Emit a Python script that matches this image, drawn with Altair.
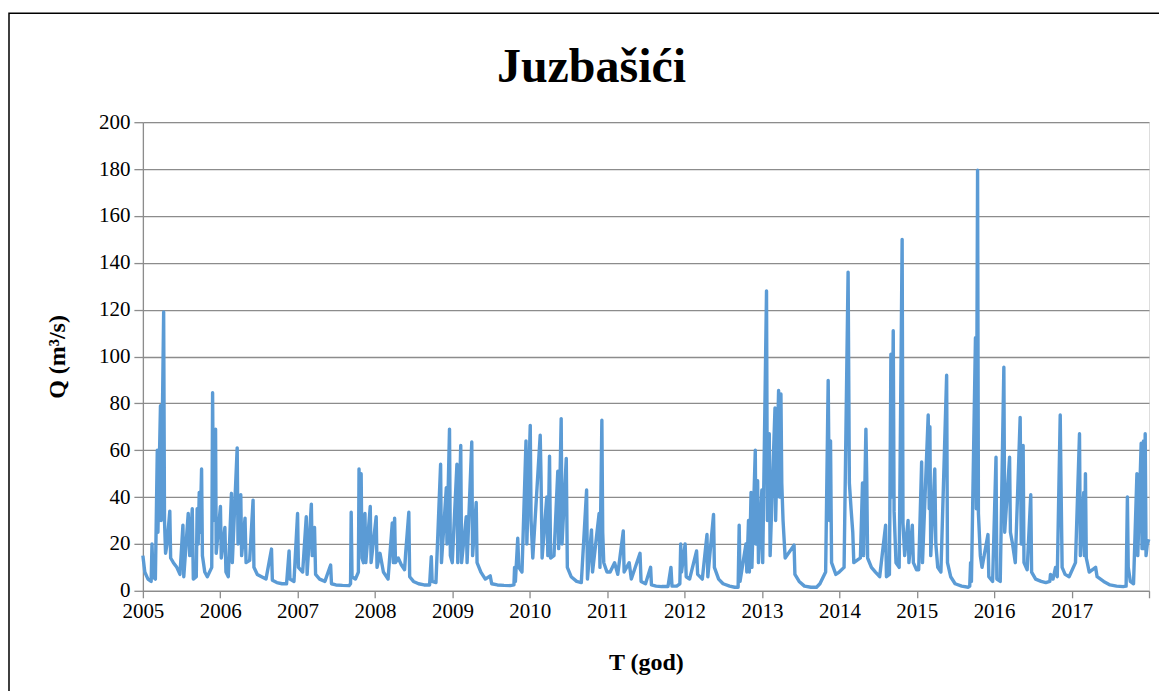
import altair as alt
import pandas as pd

Y2005 = [("2005-01-01", 15), ("2005-01-10", 8), ("2005-01-25", 5), ("2005-02-09", 4), ("2005-02-13", 20),
         ("2005-02-18", 6), ("2005-03-01", 5), ("2005-03-10", 60), ("2005-03-13", 25), ("2005-03-25", 79),
         ("2005-03-28", 30), ("2005-04-09", 119), ("2005-04-13", 30), ("2005-04-18", 16), ("2005-04-25", 20),
         ("2005-05-08", 34), ("2005-05-12", 14), ("2005-05-25", 12), ("2005-06-10", 10), ("2005-06-25", 7),
         ("2005-07-09", 28), ("2005-07-13", 6), ("2005-08-03", 33), ("2005-08-10", 15), ("2005-08-22", 35),
         ("2005-08-27", 5), ("2005-09-10", 6), ("2005-09-14", 35), ("2005-09-19", 20), ("2005-09-24", 42),
         ("2005-09-28", 25), ("2005-10-05", 52), ("2005-10-09", 15), ("2005-10-20", 8), ("2005-11-01", 6),
         ("2005-11-22", 10), ("2005-11-26", 84.5), ("2005-11-30", 30), ("2005-12-10", 69), ("2005-12-13", 16)]
Y2006 = [("2006-01-02", 36), ("2006-01-06", 14), ("2006-01-23", 27), ("2006-01-28", 8), ("2006-02-08", 6),
         ("2006-02-23", 41.6), ("2006-02-27", 12), ("2006-03-22", 61), ("2006-03-26", 20), ("2006-04-08", 41),
         ("2006-04-12", 15), ("2006-04-28", 31), ("2006-05-03", 12), ("2006-05-20", 13), ("2006-06-05", 38.7),
         ("2006-06-09", 10), ("2006-06-25", 7), ("2006-07-15", 6), ("2006-08-05", 5), ("2006-08-31", 17.8),
         ("2006-09-04", 4.5), ("2006-09-25", 3.5), ("2006-10-20", 3), ("2006-11-10", 3), ("2006-11-22", 17),
         ("2006-11-26", 5), ("2006-12-15", 4)]
Y2007 = [("2007-01-01", 33), ("2007-01-05", 10), ("2007-01-25", 8), ("2007-02-11", 31.6), ("2007-02-15", 7),
         ("2007-03-07", 37), ("2007-03-11", 15), ("2007-03-22", 27), ("2007-03-27", 7), ("2007-04-15", 5),
         ("2007-05-10", 4), ("2007-06-06", 11), ("2007-06-10", 3), ("2007-07-01", 2.5), ("2007-08-01", 2.3),
         ("2007-09-01", 2.2), ("2007-09-08", 3), ("2007-09-11", 33.5), ("2007-09-15", 6), ("2007-10-01", 5),
         ("2007-10-15", 8), ("2007-10-18", 52), ("2007-10-22", 20), ("2007-10-28", 50), ("2007-11-01", 14),
         ("2007-11-08", 12), ("2007-11-15", 33), ("2007-11-19", 12), ("2007-12-10", 36), ("2007-12-14", 12)]
Y2008 = [("2008-01-07", 31.6), ("2008-01-11", 10), ("2008-01-25", 16), ("2008-02-10", 8), ("2008-03-03", 5),
         ("2008-03-23", 29), ("2008-03-28", 12), ("2008-04-03", 31), ("2008-04-07", 12), ("2008-04-20", 14),
         ("2008-05-05", 11), ("2008-05-20", 9), ("2008-05-25", 16), ("2008-06-09", 33.5), ("2008-06-13", 6),
         ("2008-07-01", 4), ("2008-07-25", 3), ("2008-08-20", 2.5), ("2008-09-15", 2.5), ("2008-09-23", 14.6),
         ("2008-09-27", 4), ("2008-10-15", 3.5), ("2008-11-06", 54), ("2008-11-10", 12), ("2008-12-03", 44),
         ("2008-12-06", 20), ("2008-12-18", 69), ("2008-12-22", 15), ("2008-12-31", 12)]
Y2009 = [("2009-01-22", 54), ("2009-01-26", 12), ("2009-02-09", 62), ("2009-02-13", 12), ("2009-03-07", 31.6),
         ("2009-03-11", 12), ("2009-04-02", 63.5), ("2009-04-06", 15), ("2009-04-23", 37.7), ("2009-04-27", 12),
         ("2009-05-15", 8), ("2009-06-05", 5), ("2009-06-28", 6.4), ("2009-07-05", 3), ("2009-08-01", 2.5),
         ("2009-09-01", 2.3), ("2009-10-01", 2.2), ("2009-10-18", 2.5), ("2009-10-21", 10), ("2009-10-25", 4),
         ("2009-11-05", 22.4), ("2009-11-10", 10), ("2009-11-25", 8), ("2009-12-14", 64), ("2009-12-18", 20)]
Y2010 = [("2010-01-03", 70.6), ("2010-01-07", 30), ("2010-01-15", 14), ("2010-02-19", 66.4), ("2010-02-23", 48),
         ("2010-02-28", 14), ("2010-03-22", 40), ("2010-03-27", 15), ("2010-04-04", 57.4), ("2010-04-09", 14),
         ("2010-04-25", 15), ("2010-05-13", 51), ("2010-05-17", 18), ("2010-05-29", 73.5), ("2010-06-02", 20),
         ("2010-06-22", 56.5), ("2010-06-27", 10), ("2010-07-15", 6), ("2010-08-10", 4), ("2010-09-01", 3.5),
         ("2010-09-26", 43), ("2010-09-30", 5), ("2010-10-19", 26), ("2010-10-24", 8), ("2010-11-24", 33),
         ("2010-11-28", 10), ("2010-12-07", 72.8), ("2010-12-11", 25), ("2010-12-16", 12), ("2010-12-31", 8)]
Y2011 = [("2011-01-15", 8), ("2011-02-05", 12), ("2011-02-20", 7), ("2011-03-18", 25.5), ("2011-03-22", 8),
         ("2011-04-15", 12), ("2011-04-25", 5), ("2011-06-05", 16), ("2011-06-10", 4), ("2011-07-01", 3),
         ("2011-07-25", 10), ("2011-07-29", 2.5), ("2011-08-20", 2), ("2011-09-15", 1.8), ("2011-10-15", 1.8),
         ("2011-10-29", 10), ("2011-11-03", 2), ("2011-11-25", 2), ("2011-12-10", 3), ("2011-12-14", 20),
         ("2011-12-18", 8)]
Y2012 = [("2012-01-04", 20), ("2012-01-09", 6), ("2012-01-25", 5), ("2012-02-27", 17), ("2012-03-03", 7),
         ("2012-03-25", 5), ("2012-04-16", 24), ("2012-04-20", 6), ("2012-05-17", 32.6), ("2012-05-21", 10),
         ("2012-06-10", 5), ("2012-07-01", 3), ("2012-08-01", 2), ("2012-08-25", 1.5), ("2012-09-10", 1.5),
         ("2012-09-15", 28), ("2012-09-19", 4), ("2012-10-17", 20), ("2012-10-21", 8), ("2012-10-29", 30),
         ("2012-11-02", 8), ("2012-11-10", 42), ("2012-11-14", 10), ("2012-11-30", 60), ("2012-12-03", 20),
         ("2012-12-11", 47), ("2012-12-15", 12), ("2012-12-31", 43)]
Y2013 = [("2013-01-04", 12), ("2013-01-22", 128), ("2013-01-26", 30), ("2013-02-04", 67), ("2013-02-08", 15),
         ("2013-03-03", 78), ("2013-03-06", 30), ("2013-03-20", 85.5), ("2013-03-24", 40), ("2013-03-31", 84),
         ("2013-04-04", 46), ("2013-04-10", 30), ("2013-04-20", 14), ("2013-06-01", 19.5), ("2013-06-05", 7),
         ("2013-06-25", 4), ("2013-07-20", 2), ("2013-08-20", 1.5), ("2013-09-15", 1.5), ("2013-10-01", 3),
         ("2013-10-28", 8), ("2013-11-09", 89.8), ("2013-11-15", 30), ("2013-11-20", 64), ("2013-11-25", 12),
         ("2013-12-15", 7), ("2013-12-31", 8)]
Y2014 = [("2014-01-23", 10), ("2014-02-11", 136), ("2014-02-17", 46), ("2014-02-25", 35), ("2014-03-05", 25),
         ("2014-03-10", 12), ("2014-04-10", 14), ("2014-04-20", 46), ("2014-04-25", 15), ("2014-05-06", 69),
         ("2014-05-10", 48), ("2014-05-14", 14), ("2014-06-01", 10), ("2014-06-20", 8), ("2014-07-10", 6),
         ("2014-08-07", 28), ("2014-08-11", 6), ("2014-08-25", 7), ("2014-09-01", 101), ("2014-09-05", 40),
         ("2014-09-12", 111), ("2014-09-16", 34), ("2014-09-25", 12), ("2014-10-10", 10), ("2014-10-24", 150),
         ("2014-10-28", 29), ("2014-11-05", 15), ("2014-11-21", 30), ("2014-11-25", 12), ("2014-12-11", 28),
         ("2014-12-16", 12), ("2014-12-31", 9)]
Y2015 = [("2015-01-10", 9), ("2015-01-24", 55), ("2015-01-28", 12), ("2015-02-24", 75), ("2015-03-01", 35),
         ("2015-03-04", 70), ("2015-03-08", 15), ("2015-03-27", 52), ("2015-04-01", 20), ("2015-04-10", 10),
         ("2015-04-25", 8), ("2015-05-22", 92), ("2015-05-26", 12), ("2015-06-10", 6), ("2015-07-01", 3),
         ("2015-08-01", 2), ("2015-09-01", 1.5), ("2015-09-08", 2), ("2015-09-12", 12), ("2015-09-16", 4),
         ("2015-10-05", 108), ("2015-10-09", 35), ("2015-10-15", 179.5), ("2015-10-19", 33), ("2015-10-28", 15),
         ("2015-11-05", 10), ("2015-12-03", 24), ("2015-12-07", 6), ("2015-12-25", 4)]
Y2016 = [("2016-01-10", 57), ("2016-01-14", 5), ("2016-01-30", 4), ("2016-02-16", 95.4), ("2016-02-20", 25),
         ("2016-03-14", 57), ("2016-03-18", 25), ("2016-03-28", 20), ("2016-04-10", 12), ("2016-05-03", 74),
         ("2016-05-08", 20), ("2016-05-17", 62), ("2016-05-21", 12), ("2016-06-05", 9), ("2016-06-22", 41),
         ("2016-06-26", 8), ("2016-07-15", 5), ("2016-08-10", 4), ("2016-09-01", 3.5), ("2016-09-20", 4),
         ("2016-09-23", 7), ("2016-10-05", 5), ("2016-10-17", 10), ("2016-10-25", 6), ("2016-11-08", 75),
         ("2016-11-12", 44), ("2016-11-17", 10), ("2016-12-01", 7), ("2016-12-20", 6)]
Y2017 = [("2017-01-19", 12), ("2017-02-07", 67), ("2017-02-11", 15), ("2017-02-27", 42), ("2017-03-02", 15),
         ("2017-03-07", 50), ("2017-03-11", 14), ("2017-03-25", 8), ("2017-04-24", 10), ("2017-05-01", 6),
         ("2017-06-01", 4), ("2017-07-01", 2.5), ("2017-08-01", 2), ("2017-09-01", 1.8), ("2017-09-15", 2),
         ("2017-09-21", 40), ("2017-09-25", 10), ("2017-10-05", 4), ("2017-10-20", 3), ("2017-11-05", 50),
         ("2017-11-09", 15), ("2017-11-25", 63), ("2017-11-29", 18), ("2017-12-06", 64), ("2017-12-09", 18),
         ("2017-12-14", 67), ("2017-12-18", 15), ("2017-12-24", 20), ("2017-12-31", 22)]

YEARS = list(range(2005, 2019))
Y_TICKS = list(range(0, 201, 20))
TITLE = "Juzbašići"
X_TITLE = "T (god)"
Y_TITLE = "Q (m³/s)"

rows = Y2005 + Y2006 + Y2007 + Y2008 + Y2009 + Y2010 + Y2011 + Y2012 + Y2013 + Y2014 + Y2015 + Y2016 + Y2017
df = pd.DataFrame(rows, columns=["date", "q"])

FONT = "Liberation Serif"
W, H = 1007, 469
GRID = "#8c8c8c"

x_enc = alt.X(
    "date:T",
    scale=alt.Scale(type="utc",
                    domain=[alt.DateTime(year=2005, month=1, date=1, utc=True),
                            alt.DateTime(year=2018, month=1, date=1, utc=True)]),
    axis=alt.Axis(
        values=[alt.DateTime(year=y, month=1, date=1, utc=True) for y in YEARS],
        labelExpr="utcyear(datum.value) >= 2018 ? '' : utcFormat(datum.value, '%Y')",
        grid=False, tickSize=7, labelPadding=3, labelFontSize=21, labelFont=FONT,
        labelColor="black", domainColor=GRID, tickColor=GRID, domainWidth=1.3, tickWidth=1.3,
        title=X_TITLE, titleFont=FONT, titleFontSize=24, titleFontWeight="bold", titleColor="black",
        titleX=W / 2, titleY=79, titleAnchor="start", titleAlign="center", titleBaseline="alphabetic",
        labelFlush=False, labelOverlap=False,
    ),
)
y_enc = alt.Y(
    "q:Q",
    scale=alt.Scale(domain=[0, 200], nice=False),
    axis=alt.Axis(
        values=Y_TICKS, grid=True, gridColor=GRID, gridWidth=1.3, tickSize=9, labelPadding=4,
        labelFontSize=21, labelFont=FONT, labelColor="black", domainColor=GRID, tickColor=GRID,
        domainWidth=1.3, tickWidth=1.3,
        title=Y_TITLE, titleFont=FONT, titleFontSize=24, titleFontWeight="bold", titleColor="black",
        titleAngle=270, titleX=-85, titleY=H / 2, titleAlign="center", titleBaseline="middle",
    ),
)

line = alt.Chart(df).mark_line(color="#5B9BD5", strokeWidth=3.4, strokeJoin="round").encode(x=x_enc, y=y_enc)

border = alt.Chart(pd.DataFrame({"k": [0]})).mark_rect(
    fillOpacity=0, stroke="black", strokeWidth=1.5
).encode(x=alt.value(-134), x2=alt.value(W + 40), y=alt.value(-109), y2=alt.value(H + 250))

title = alt.Chart(pd.DataFrame({"t": [TITLE]})).mark_text(
    font=FONT, fontSize=48, fontWeight="bold", color="black", align="center", baseline="alphabetic"
).encode(text="t:N", x=alt.value(592 - 143), y=alt.value(82 - 122))

chart = alt.layer(border, line, title).properties(
    width=W, height=H,
    autosize=alt.AutoSizeParams(type="none"),
    padding={"left": 135, "top": 114, "right": 10, "bottom": 100},
).configure_view(stroke=None).configure(background="white")

chart.save("out.html", embed_options={"renderer": "svg", "actions": False})
